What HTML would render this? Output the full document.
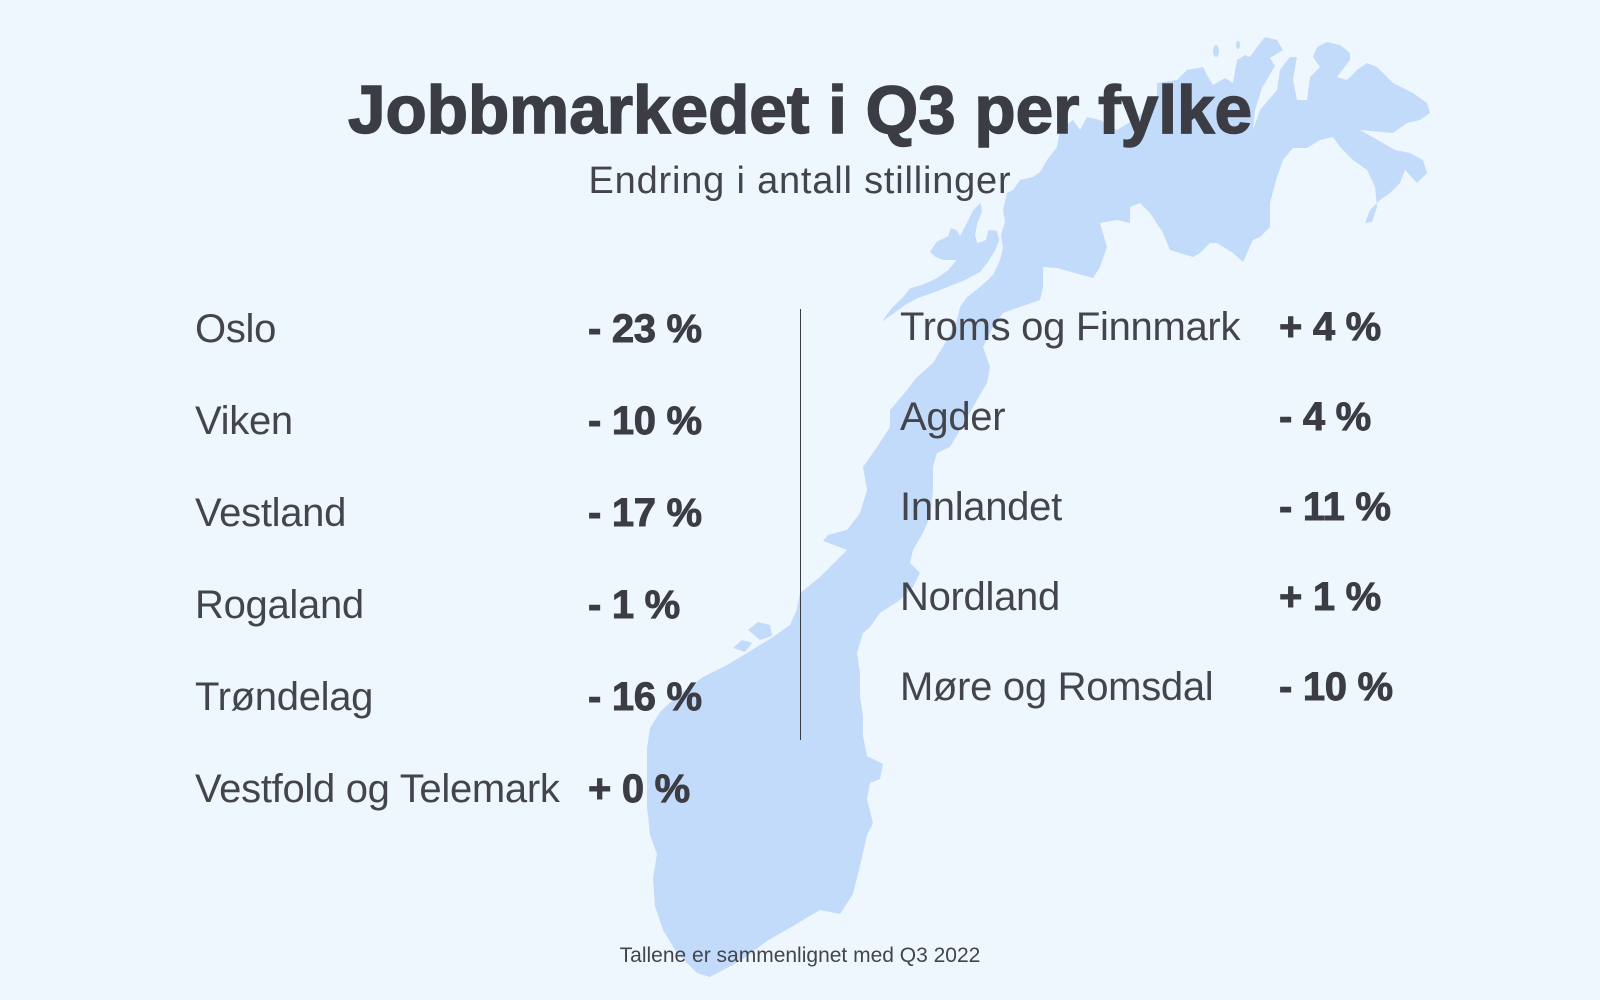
<!DOCTYPE html>
<html>
<head>
<meta charset="utf-8">
<style>
  html,body{margin:0;padding:0;background:#eff7fe;}
  svg{display:block;}
  .lab{font-family:"Liberation Sans",sans-serif;font-size:40px;fill:#44454c;letter-spacing:-0.3px;}
  .val{font-family:"Liberation Sans",sans-serif;font-size:40px;font-weight:bold;fill:#3c3d44;stroke:#3c3d44;stroke-width:0.9px;letter-spacing:-0.3px;}
</style>
</head>
<body>
<svg width="1600" height="1000" viewBox="0 0 1600 1000" xmlns="http://www.w3.org/2000/svg">
  <rect x="0" y="0" width="1600" height="1000" fill="#eff7fe"/>
  <g fill="#c2dbfb">
    <polygon points="710,977 697,973 677,953 663,930 655,906 653,878 657,854 650,835 647,807 647,775 647,748 650,728 660,712 677,696 703,677 727,665 747,653 773,637 790,625 797,609 800,593 820,577 847,550 823,541 828,535 847,530 860,513 867,490 863,467 877,447 890,427 890,410 907,390 917,377 933,363 947,340 957,320 960,307 967,297 980,287 993,275 1000,260 1003,248 1001,235 1005,222 1003,210 1007,193 1013,190 1020,180 1033,177 1040,172 1047,160 1057,147 1060,130 1073,120 1080,130 1087,117 1100,120 1117,130 1133,120 1157,103 1157,83 1177,80 1187,70 1203,67 1207,75 1213,85 1225,78 1233,83 1237,60 1245,55 1250,57 1257,47 1265,37 1277,40 1283,50 1270,58 1275,66 1262,88 1255,110 1253,130 1260,110 1277,90 1280,70 1290,57 1297,57 1293,80 1297,100 1307,100 1310,77 1320,67 1313,57 1317,47 1327,42 1340,45 1350,53 1350,60 1337,77 1347,80 1357,70 1367,63 1377,67 1393,83 1413,93 1427,103 1430,113 1420,120 1407,123 1393,133 1360,130 1383,143 1395,150 1410,153 1423,160 1427,173 1417,183 1405,170 1400,183 1390,193 1380,200 1370,210 1365,223 1372,222 1377,207 1375,187 1367,170 1353,160 1340,147 1333,137 1320,140 1307,148 1293,148 1283,160 1277,177 1270,203 1270,227 1260,237 1253,240 1247,253 1243,262 1233,253 1217,243 1210,243 1200,253 1193,257 1170,250 1163,233 1150,213 1140,203 1130,207 1130,223 1117,220 1100,223 1107,247 1100,267 1093,278 1057,268 1043,267 1043,287 1040,300 1020,307 1003,313 993,327 983,347 990,367 987,383 973,407 960,430 950,447 937,453 933,467 933,490 930,517 923,533 913,550 910,563 920,573 913,587 900,600 880,613 870,627 863,633 857,653 860,673 860,696 863,716 863,736 867,756 883,764 880,779 870,783 867,799 873,823 867,835 860,866 853,894 840,914 820,910 793,926 767,941 740,961"/>
    <polygon points="881.7,321.7 891.7,308.3 903.3,296.7 910,288.3 921.7,285 936.7,278.3 948.3,270 956.7,260 943.3,260 935,256.7 930,251.7 936.7,241.7 948.3,236 950.7,228.3 956.7,230 960,236 966.7,223.3 973.3,210 980.7,202.7 982,211.7 977.3,223.3 975,235 977.3,243.3 986,240 988.3,230 996.7,230.7 999.3,240 995,250.7 988,262 980,272 965,280 950,286 935,292 918,298 905,305 893,314"/>
    <polygon points="733,648 742,640 752,643 745,652"/>
    <polygon points="748,630 758,622 770,625 772,636 760,640"/>
    <ellipse cx="1216" cy="51" rx="3" ry="6"/>
    <ellipse cx="1238" cy="45" rx="2" ry="4"/>
  </g>

  <text x="800" y="133" text-anchor="middle" font-family="Liberation Sans, sans-serif" font-size="67.5" font-weight="bold" fill="#3c3d44" stroke="#3c3d44" stroke-width="1.5">Jobbmarkedet i Q3 per fylke</text>
  <text x="800" y="193" text-anchor="middle" font-family="Liberation Sans, sans-serif" font-size="38" fill="#44454c" style="letter-spacing:0.8px">Endring i antall stillinger</text>

  <text class="lab" x="195" y="342">Oslo</text>
  <text class="lab" x="195" y="434">Viken</text>
  <text class="lab" x="195" y="526">Vestland</text>
  <text class="lab" x="195" y="618">Rogaland</text>
  <text class="lab" x="195" y="710">Trøndelag</text>
  <text class="lab" x="195" y="802">Vestfold og Telemark</text>

  <text class="val" x="588" y="342">- 23 %</text>
  <text class="val" x="588" y="434">- 10 %</text>
  <text class="val" x="588" y="526">- 17 %</text>
  <text class="val" x="588" y="618">- 1 %</text>
  <text class="val" x="588" y="710">- 16 %</text>
  <text class="val" x="588" y="802">+ 0 %</text>

  <line x1="800.5" y1="309" x2="800.5" y2="740" stroke="#3c3d44" stroke-width="1"/>

  <text class="lab" x="900" y="340">Troms og Finnmark</text>
  <text class="lab" x="900" y="430">Agder</text>
  <text class="lab" x="900" y="520">Innlandet</text>
  <text class="lab" x="900" y="610">Nordland</text>
  <text class="lab" x="900" y="700">Møre og Romsdal</text>

  <text class="val" x="1279" y="340">+ 4 %</text>
  <text class="val" x="1279" y="430">- 4 %</text>
  <text class="val" x="1279" y="520">- 11 %</text>
  <text class="val" x="1279" y="610">+ 1 %</text>
  <text class="val" x="1279" y="700">- 10 %</text>

  <text x="800" y="962" text-anchor="middle" font-family="Liberation Sans, sans-serif" font-size="21" fill="#44454c">Tallene er sammenlignet med Q3 2022</text>
</svg>
</body>
</html>
